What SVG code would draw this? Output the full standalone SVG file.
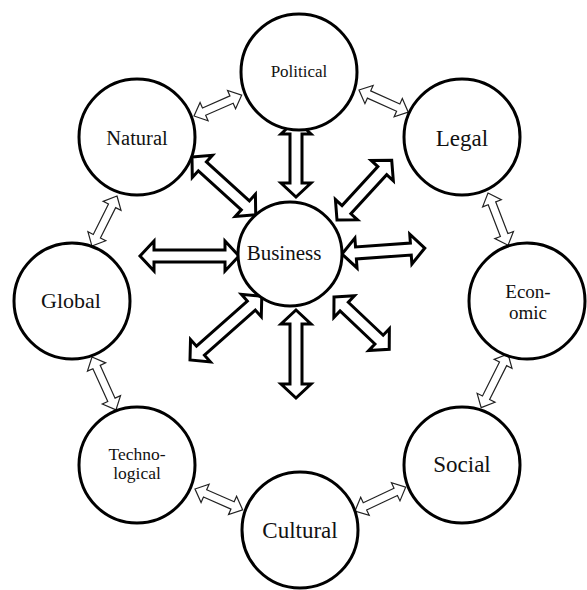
<svg xmlns="http://www.w3.org/2000/svg" width="587" height="590" viewBox="0 0 587 590">
<style>
.node circle{fill:#fff;stroke:#000;stroke-width:3}
.node text{font-family:"Liberation Serif","Times New Roman",serif;fill:#111;text-anchor:middle}
.big{fill:#fff;stroke:#000;stroke-width:3;stroke-linejoin:miter}
.small{fill:#fff;stroke:#222;stroke-width:1.2;stroke-linejoin:miter}
</style>
<rect width="587" height="590" fill="#fff"/>
<g id="connectors">
<path class="big" transform="translate(296,120) rotate(90)" d="M0,0 L14,-15 L14,-6 L63,-6 L63,-15 L77,0 L63,15 L63,6 L14,6 L14,15 Z"/>
<path class="big" transform="translate(140,256)" d="M0,0 L14,-15 L14,-6 L85,-6 L85,-15 L99,0 L85,15 L85,6 L14,6 L14,15 Z"/>
<path class="big" transform="translate(342,254) rotate(-4.1)" d="M0,0 L14,-15 L14,-6 L69,-6 L69,-15 L83,0 L69,15 L69,6 L14,6 L14,15 Z"/>
<path class="big" transform="translate(296,310) rotate(90)" d="M0,0 L14,-15 L14,-6 L74,-6 L74,-15 L88,0 L74,15 L74,6 L14,6 L14,15 Z"/>
<path class="big" transform="translate(192,157) rotate(42.2)" d="M0,0 L14,-15 L14,-6 L72,-6 L72,-15 L86,0 L72,15 L72,6 L14,6 L14,15 Z"/>
<path class="big" transform="translate(337,220) rotate(-47.5)" d="M0,0 L14,-15 L14,-6 L67,-6 L67,-15 L81,0 L67,15 L67,6 L14,6 L14,15 Z"/>
<path class="big" transform="translate(190,360) rotate(-41.6)" d="M0,0 L14,-15 L14,-6 L82,-6 L82,-15 L96,0 L82,15 L82,6 L14,6 L14,15 Z"/>
<path class="big" transform="translate(334,297) rotate(43.4)" d="M0,0 L14,-15 L14,-6 L62,-6 L62,-15 L76,0 L62,15 L62,6 L14,6 L14,15 Z"/>
<path class="small" transform="translate(194,116) rotate(-23.6)" d="M0,0 L11,-10 L11,-4 L41,-4 L41,-10 L52,0 L41,10 L41,4 L11,4 L11,10 Z"/>
<path class="small" transform="translate(359,90) rotate(24.2)" d="M0,0 L11,-10 L11,-4 L43,-4 L43,-10 L54,0 L43,10 L43,4 L11,4 L11,10 Z"/>
<path class="small" transform="translate(488,193) rotate(69)" d="M0,0 L11,-10 L11,-4 L45,-4 L45,-10 L56,0 L45,10 L45,4 L11,4 L11,10 Z"/>
<path class="small" transform="translate(508,354) rotate(116.6)" d="M0,0 L11,-10 L11,-4 L49,-4 L49,-10 L60,0 L49,10 L49,4 L11,4 L11,10 Z"/>
<path class="small" transform="translate(117,196) rotate(116.6)" d="M0,0 L11,-10 L11,-4 L45,-4 L45,-10 L56,0 L45,10 L45,4 L11,4 L11,10 Z"/>
<path class="small" transform="translate(92,357) rotate(65.6)" d="M0,0 L11,-10 L11,-4 L47,-4 L47,-10 L58,0 L47,10 L47,4 L11,4 L11,10 Z"/>
<path class="small" transform="translate(195,489) rotate(23.6)" d="M0,0 L11,-10 L11,-4 L41,-4 L41,-10 L52,0 L41,10 L41,4 L11,4 L11,10 Z"/>
<path class="small" transform="translate(355,511) rotate(-25.2)" d="M0,0 L11,-10 L11,-4 L45,-4 L45,-10 L56,0 L45,10 L45,4 L11,4 L11,10 Z"/>
</g>
<g id="political" class="node"><circle cx="299" cy="72" r="58"/><text x="299" y="77" font-size="17">Political</text></g>
<g id="legal" class="node"><circle cx="462" cy="137" r="58"/><text x="462" y="146" font-size="23">Legal</text></g>
<g id="economic" class="node"><circle cx="527" cy="301" r="58"/><text x="528" y="298" font-size="19">Econ-</text><text x="528" y="319" font-size="19">omic</text></g>
<g id="social" class="node"><circle cx="462" cy="465" r="58"/><text x="462" y="472" font-size="23">Social</text></g>
<g id="cultural" class="node"><circle cx="300" cy="530" r="58"/><text x="300" y="538" font-size="23">Cultural</text></g>
<g id="technological" class="node"><circle cx="137" cy="465" r="58"/><text x="137" y="460" font-size="17.5">Techno-</text><text x="137" y="479" font-size="17.5">logical</text></g>
<g id="global" class="node"><circle cx="72" cy="301" r="58"/><text x="71" y="308" font-size="22">Global</text></g>
<g id="natural" class="node"><circle cx="137" cy="137" r="58"/><text x="137" y="145" font-size="20.5">Natural</text></g>
<g id="business" class="node"><circle cx="290" cy="254" r="52"/><text x="284" y="260" font-size="21">Business</text></g>
</svg>
